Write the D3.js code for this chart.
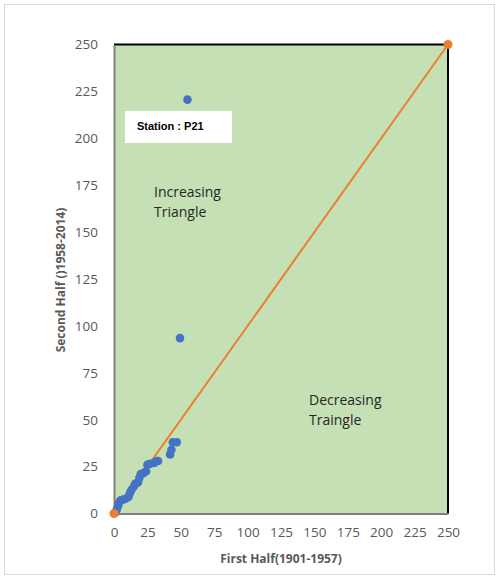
<!DOCTYPE html>
<html>
<head>
<meta charset="utf-8">
<script src="https://cdn.jsdelivr.net/npm/d3@7"></script>
<style>
  html, body { margin: 0; padding: 0; background: #fff; }
  svg { display: block; }
</style>
</head>
<body>
<svg id="chart" width="499" height="576"></svg>
<script>
// Station P21: first-half vs second-half values
const firstHalf  = [1, 2, 3, 4, 5, 7, 9, 11, 12, 13, 15, 16, 18, 19, 20, 22, 24, 25, 27, 30, 32, 33, 42, 43, 44, 47, 49.4, 55];
const secondHalf = [0.5, 2, 4, 6, 7, 7.5, 8, 9, 11, 12.5, 14.5, 16, 16.5, 19, 21, 21.5, 22.5, 26, 26.5, 27, 28, 28, 31.5, 34, 38, 38, 93.5, 220.6];

// 1:1 reference line end points
const lineX = [0, 250];
const lineY = [0, 250];

const tickValues = [0, 25, 50, 75, 100, 125, 150, 175, 200, 225, 250];

const svg = d3.select("#chart");
const W = 499, H = 576;
const plot = { left: 114, right: 448, top: 44.5, bottom: 513.5 };

// outer chart frame
svg.append("rect")
  .attr("x", 4.5).attr("y", 4.5)
  .attr("width", W - 9).attr("height", H - 6)
  .attr("fill", "#fff").attr("stroke", "#d9d9d9").attr("stroke-width", 1);

const x = d3.scaleLinear().domain([0, 250]).range([plot.left, plot.right]);
const y = d3.scaleLinear().domain([0, 250]).range([plot.bottom, plot.top]);

// plot area fill
svg.append("rect")
  .attr("x", plot.left).attr("y", plot.top)
  .attr("width", plot.right - plot.left).attr("height", plot.bottom - plot.top)
  .attr("fill", "#C5E0B4");

// top and right borders (black)
svg.append("path")
  .attr("d", `M${plot.left},${plot.top}H${plot.right}V${plot.bottom}`)
  .attr("fill", "none").attr("stroke", "#000").attr("stroke-width", 2);

// axes
const fontFam = "'Open Sans', 'Noto Sans', sans-serif";
const xAxis = svg.append("g")
  .attr("transform", `translate(0,${plot.bottom})`)
  .call(d3.axisBottom(x).tickValues(tickValues).tickSize(0).tickPadding(14));
const yAxis = svg.append("g")
  .attr("transform", `translate(${plot.left},0)`)
  .call(d3.axisLeft(y).tickValues(tickValues).tickSize(0).tickPadding(16));

[xAxis, yAxis].forEach(g => {
  g.select(".domain").attr("stroke", "#808080").attr("stroke-width", 2);
  g.selectAll("text")
    .attr("fill", "#595959")
    .style("font-family", fontFam)
    .style("font-size", "13.5px");
});

// axis titles
svg.append("text")
  .attr("x", 281).attr("y", 563)
  .attr("text-anchor", "middle")
  .attr("fill", "#595959")
  .style("font-family", fontFam)
  .style("font-size", "12px")
  .style("font-weight", "bold")
  .text("First Half(1901-1957)");

svg.append("text")
  .attr("transform", "translate(65,280) rotate(-90)")
  .attr("text-anchor", "middle")
  .attr("fill", "#595959")
  .style("font-family", fontFam)
  .style("font-size", "12px")
  .style("font-weight", "bold")
  .text("Second Half ()1958-2014)");

// 1:1 line
const pts = lineX.map((v, i) => [v, lineY[i]]);
svg.append("path")
  .datum(pts)
  .attr("d", d3.line().x(d => x(d[0])).y(d => y(d[1])))
  .attr("fill", "none").attr("stroke", "#ED7D31").attr("stroke-width", 2);

// scatter points
const data = firstHalf.map((v, i) => [v, secondHalf[i]]);
svg.append("g").selectAll("circle")
  .data(data).join("circle")
  .attr("cx", d => x(d[0])).attr("cy", d => y(d[1]))
  .attr("r", 4.3).attr("fill", "#4472C4");

svg.append("g").selectAll("circle")
  .data(pts).join("circle")
  .attr("cx", d => x(d[0])).attr("cy", d => y(d[1]))
  .attr("r", 4.5).attr("fill", "#ED7D31");

// station label
svg.append("rect")
  .attr("x", 125).attr("y", 111)
  .attr("width", 107).attr("height", 32)
  .attr("fill", "#fff");
svg.append("text")
  .attr("x", 137).attr("y", 127)
  .attr("dominant-baseline", "middle")
  .attr("fill", "#000")
  .style("font-family", "'Liberation Sans', Arial, sans-serif")
  .style("font-size", "11px")
  .style("font-weight", "bold")
  .text("Station : P21");

// region annotations
function twoLine(xp, y1, y2, a, b) {
  const t = svg.append("text")
    .attr("fill", "#262626")
    .style("font-family", fontFam)
    .style("font-size", "14px");
  t.append("tspan").attr("x", xp).attr("y", y1).attr("dominant-baseline", "middle").text(a);
  t.append("tspan").attr("x", xp).attr("y", y2).attr("dominant-baseline", "middle").text(b);
}
twoLine(154, 193, 213, "Increasing", "Triangle");
twoLine(309, 401, 421, "Decreasing", "Traingle");
</script>
</body>
</html>
